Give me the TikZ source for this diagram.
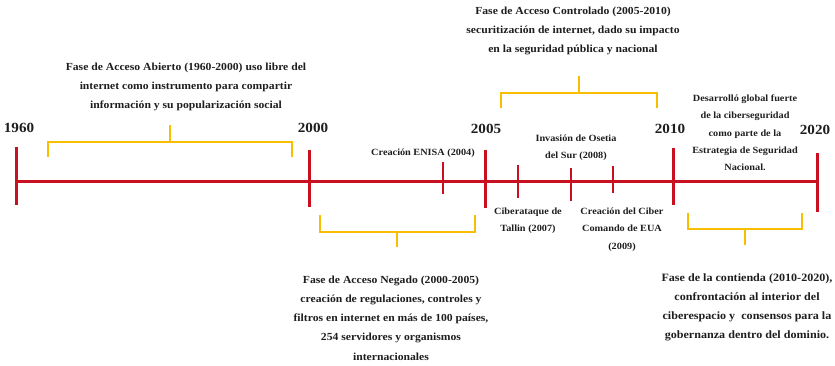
\documentclass[tikz,border=0pt]{standalone}
\usepackage{fontspec}
\setmainfont{Liberation Serif}[FakeStretch=1.08]
\usepackage{xcolor}
\usetikzlibrary{positioning}
\definecolor{lineRed}{RGB}{200,16,32}
\definecolor{braceGold}{RGB}{250,190,0}
\definecolor{inkGray}{RGB}{30,30,30}

\begin{document}
\begin{tikzpicture}[
  x=1pt,
  y=-1pt,
  axis/.style={
    draw=lineRed,
    line width=3pt
  },
  major/.style={
    draw=lineRed,
    line width=3pt
  },
  minor/.style={
    draw=lineRed,
    line width=2.6pt
  },
  brace/.style={
    draw=braceGold,
    line width=2pt
  },
  year/.style={
    font=\bfseries\fontsize{14}{17}\selectfont,
    text=inkGray,
    inner sep=0pt
  },
  phase/.style={
    font=\bfseries\fontsize{10.8}{19.2}\selectfont,
    text=inkGray,
    align=center,
    inner sep=0pt
  },
  event/.style={
    font=\bfseries\fontsize{9.5}{17.5}\selectfont,
    text=inkGray,
    align=center,
    inner sep=0pt
  }
]
\useasboundingbox (0,0) rectangle (835,366);

% Axis
\coordinate (start) at (16,182);
\coordinate (end) at (817,182);
\draw[axis] (start) -- (end);

% Major ticks
\draw[major] (16,147) -- (16,205);
\draw[major] (309,150) -- (309,207);
\draw[major] (485,150) -- (485,208);
\draw[major] (673,148) -- (673,205);
\draw[major] (817,153) -- (817,212);

% Minor ticks
\draw[minor] (443,162) -- (443,194);
\draw[minor] (518,165) -- (518,198);
\draw[minor] (571,168) -- (571,201);
\draw[minor] (613,166) -- (613,193);

% Years
\node[year] (y1960) at (19,128) {1960};
\node[year] (y2000) at (313,128) {2000};
\node[year] (y2005) at (486,129) {2005};
\node[year] (y2010) at (670,129) {2010};
\node[year] (y2020) at (815,130) {2020};

% ---------------- Brackets above ----------------
\draw[brace] (48,157) |- (292,142) -- (292,157);
\draw[brace] (170,142) -- (170,125);

\draw[brace] (501,108) |- (657,93) -- (657,108);
\draw[brace] (579,93) -- (579,76);

% ---------------- Brackets below ----------------
\draw[brace] (320,215) |- (475,232) -- (475,215);
\draw[brace] (397,232) -- (397,247);

\draw[brace] (688,213) |- (802,229) -- (802,213);
\draw[brace] (745,229) -- (745,245);

% Phases
\node[phase] (open) at (186,87)
{Fase de Acceso Abierto (1960-2000) uso libre del\\
internet como instrumento para compartir\\
información y su popularización social};

\node[phase] (controlled) at (573,31)
{Fase de Acceso Controlado (2005-2010)\\
securitización de internet, dado su impacto\\
en la seguridad pública y nacional};

\node[phase] (denied) at (391,318)
{Fase de Acceso Negado (2000-2005)\\
creación de regulaciones, controles y\\
filtros en internet en más de 100 países,\\
254 servidores y organismos\\
internacionales};

\node[phase, font=\bfseries\fontsize{11.2}{19}\selectfont] (contest) at (747,307.5)
{Fase de la contienda (2010-2020),\\
confrontación al interior del\\
ciberespacio y \ consensos para la\\
gobernanza dentro del dominio.};

% Events
\node[event] (enisa) at (423,153) {Creación ENISA (2004)};

\node[event] (osetia) at (576,147.5)
{Invasión de Osetia\\del Sur (2008)};

\node[event] (tallin) at (528,220.5)
{Ciberataque de\\Tallin (2007)};

\node[event] (comando) at (622,229.5)
{Creación del Ciber\\Comando de EUA\\(2009)};

\node[event, font=\bfseries\fontsize{9.5}{17.3}\selectfont] (global) at (745,133)
{Desarrolló global fuerte\\
de la ciberseguridad\\
como parte de la\\
Estrategia de Seguridad\\
Nacional.};

\end{tikzpicture}
\end{document}
